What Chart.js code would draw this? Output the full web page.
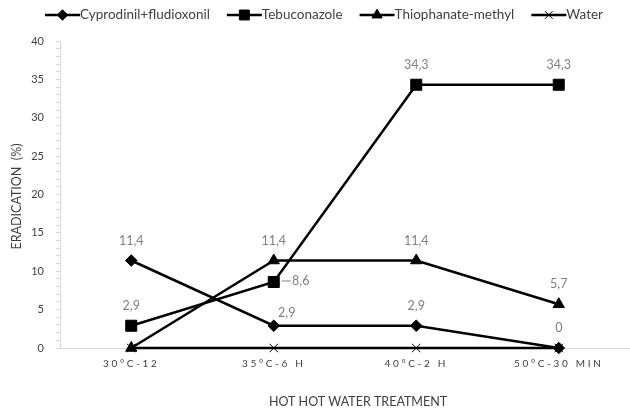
<!DOCTYPE html>
<html>
<head>
<meta charset="utf-8">
<script src="https://cdn.jsdelivr.net/npm/chart.js@4.4.1/dist/chart.umd.min.js"></script>
<style>
  html, body { margin: 0; padding: 0; background: #fff; overflow: hidden; }
  #wrap { width: 630px; height: 409px; position: relative; }
</style>
</head>
<body>
<div id="wrap"><canvas id="chart"></canvas></div>
<script>
// treatments and eradication (%) per fungicide
const categories = ['30°C-12', '35°C-6 H', '40°C-2 H', '50°C-30 MIN'];
const cyprodinil = [11.4, 2.9, 2.9, 0];
const tebuconazole = [2.9, 8.6, 34.3, 34.3];
const thiophanate = [0, 11.4, 11.4, 5.7];
const water = [0, 0, 0, 0];
const yMin = 0, yMax = 40, yLabelStep = 5;

const FONT = 'Lato, "Liberation Sans", sans-serif';
const GREY = '#7f7f7f';
const TEXT = '#404040';
const AXIS = '#d9d9d9';

function series(label, data, pointStyle, pointRadius, labelPlace) {
    return {
        label,
        data,
        pointStyle,
        pointRadius,
        pointHoverRadius: pointRadius,
        borderColor: '#000',
        backgroundColor: '#000',
        pointBackgroundColor: '#000',
        pointBorderColor: '#000',
        pointBorderWidth: 1,
        borderWidth: 2.5,
        tension: 0,
        clip: false,
        labelPlace,
    };
}

// value labels next to the points, comma as decimal separator
const valueLabels = {
    id: 'valueLabels',
    afterDatasetsDraw(chart) {
        const ctx = chart.ctx;
        ctx.save();
        ctx.font = '12.5px ' + FONT;
        ctx.fillStyle = GREY;
        ctx.strokeStyle = GREY;
        ctx.lineWidth = 1;
        ctx.textAlign = 'center';
        ctx.textBaseline = 'middle';
        chart.data.datasets.forEach((ds, i) => {
            if (!ds.labelPlace) return;
            chart.getDatasetMeta(i).data.forEach((pt, j) => {
                const place = ds.labelPlace[j];
                if (!place) return;
                const text = String(ds.data[j]).replace('.', ',');
                let x = pt.x, y = pt.y;
                if (place === 'above') {
                    y -= 20;
                } else if (place === 'aboveRight') {
                    x += 13; y -= 13;
                } else if (place === 'right') {
                    ctx.beginPath();
                    ctx.moveTo(x + 8, y - 1);
                    ctx.lineTo(x + 17, y - 1);
                    ctx.stroke();
                    x += 27; y -= 1;
                }
                ctx.fillText(text, x, y);
            });
        });
        ctx.restore();
    }
};

// legend drawn as line + marker, like the series themselves
const lineLegend = {
    id: 'lineLegend',
    afterDraw(chart) {
        const ctx = chart.ctx;
        ctx.save();
        ctx.font = '13.5px ' + FONT;
        ctx.textBaseline = 'middle';
        ctx.textAlign = 'left';
        let x = 45;
        const y = 15;
        chart.data.datasets.forEach(ds => {
            ctx.strokeStyle = '#000';
            ctx.fillStyle = '#000';
            ctx.lineWidth = 2.5;
            ctx.beginPath();
            ctx.moveTo(x, y);
            ctx.lineTo(x + 35, y);
            ctx.stroke();
            ctx.lineWidth = 1;
            if (Chart.helpers && Chart.helpers.drawPoint) {
                Chart.helpers.drawPoint(ctx, {
                    pointStyle: ds.pointStyle,
                    radius: ds.pointRadius * 0.9,
                    borderWidth: 1,
                    rotation: 0,
                }, x + 17.5, y);
            }
            ctx.fillStyle = TEXT;
            ctx.fillText(ds.label, x + 35, y);
            x += 35 + ctx.measureText(ds.label).width + 17;
        });
        ctx.restore();
    }
};

// axis titles
const axisTitles = {
    id: 'axisTitles',
    afterDraw(chart) {
        const ctx = chart.ctx;
        const area = chart.chartArea;
        ctx.save();
        ctx.font = '12.5px ' + FONT;
        ctx.fillStyle = TEXT;
        ctx.textAlign = 'center';
        ctx.textBaseline = 'middle';
        ctx.fillText('HOT HOT WATER TREATMENT', 358, 402);
        ctx.translate(17, (area.top + area.bottom) / 2 + 2);
        ctx.rotate(-Math.PI / 2);
        ctx.fillText('ERADICATION  (%)', 0, 0);
        ctx.restore();
    }
};

// spaced-out category labels
const spacedTicks = {
    id: 'spacedTicks',
    afterLayout(chart) {
        const xs = chart.scales.x;
        if (!xs || xs._spaced) return;
        const draw = xs.drawLabels.bind(xs);
        xs.drawLabels = (area) => {
            chart.ctx.letterSpacing = '2.7px';
            draw(area);
            chart.ctx.letterSpacing = '0px';
        };
        xs._spaced = true;
    }
};

new Chart(document.getElementById('chart'), {
    type: 'line',
    data: {
        labels: categories,
        datasets: [
            series('Cyprodinil+fludioxonil', cyprodinil, 'rectRot', 5.8, ['above', 'aboveRight', 'above', 'above']),
            series('Tebuconazole', tebuconazole, 'rect', 7.8, ['above', 'right', 'above', 'above']),
            series('Thiophanate-methyl', thiophanate, 'triangle', 6.5, [null, 'above', 'above', 'above']),
            series('Water', water, 'crossRot', 6, null),
        ],
    },
    options: {
        responsive: true,
        maintainAspectRatio: false,
        animation: false,
        layout: { autoPadding: false, padding: { top: 41, right: 0, bottom: 0, left: 0 } },
        plugins: {
            legend: { display: false },
            tooltip: { enabled: false },
        },
        scales: {
            x: {
                offset: true,
                afterFit: s => {
                    s.height = 61;
                    s.paddingLeft = 0;
                    s.paddingRight = 0;
                },
                grid: { display: true, drawOnChartArea: false, drawTicks: false, color: AXIS },
                border: { display: true, color: AXIS, width: 1 },
                ticks: {
                    font: { family: FONT, size: 10 },
                    color: TEXT,
                    padding: 10,
                    maxRotation: 0,
                },
            },
            y: {
                min: yMin,
                max: yMax,
                afterFit: s => {
                    s.width = 60;
                },
                grid: { display: true, drawOnChartArea: false, drawTicks: true, tickLength: 4, color: AXIS },
                border: { display: true, color: AXIS, width: 1 },
                ticks: {
                    stepSize: 1,
                    autoSkip: false,
                    padding: 12,
                    font: { family: FONT, size: 11 },
                    color: TEXT,
                    callback: v => (v % yLabelStep === 0 ? v : ''),
                },
            },
        },
    },
    plugins: [valueLabels, lineLegend, axisTitles, spacedTicks],
});
</script>
</body>
</html>
